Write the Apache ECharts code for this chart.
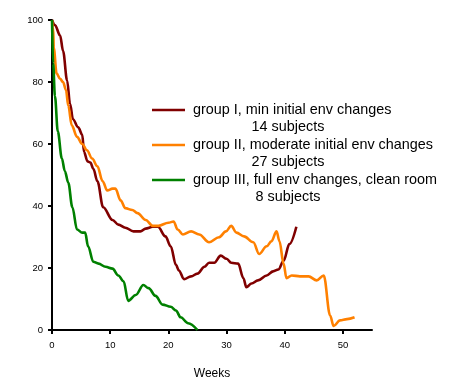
<!DOCTYPE html>
<html>
<head>
<meta charset="utf-8">
<script src="https://cdn.jsdelivr.net/npm/echarts@6/dist/echarts.min.js"></script>
<style>html,body{margin:0;padding:0;background:#fff;}#c{width:450px;height:385px;}</style>
</head>
<body>
<div id="c"></div>
<script>
var xTicks = [0, 10, 20, 30, 40, 50];
var yTicks = [0, 20, 40, 60, 80, 100];

var groupINames = ['group I, min initial env changes', '14 subjects'];
var groupIINames = ['group II, moderate initial env changes', '27 subjects'];
var groupIIINames = ['group III, full env changes, clean room', '8 subjects'];

var groupIWeeks = [0,0.5,1.4,1.9,2.6,3.1,3.6,4.5,5.2,5.5,6.1,6.6,7.1,7.8,8.8,10.4,11.4,12.6,14,15.2,16.1,17.3,18.2,19.5,20.4,21.3,21.8,22.7,23.9,25,26.2,27,27.9,29,30,30.8,32,32.9,33.4,34.3,35.4,36.9,38,38.9,39.8,40.8,42];
var groupIValues = [100,98.4,95,90,80.5,73,68,65.4,63,57.5,54.4,54,52,48,39.6,35.5,34,33,31.8,31.8,32.7,33.3,33.3,30.2,27,21,19.2,16.4,17.3,18.2,20.4,21.7,21.7,24,23,21.7,21.4,16.7,13.8,15,16,17.6,18.9,19.5,22.3,27.7,33.3];

var groupIIWeeks = [0,0.2,0.3,0.8,1.4,1.9,2.4,2.8,3.4,4.3,5.2,6,6.9,7.8,8.7,9.5,10.4,10.9,11.8,12.6,13.8,14.7,16.1,17.3,18.3,20,20.9,21.6,22.5,23.9,25.3,27,28.7,29.9,30.8,31.7,33,34.6,35.6,36.9,37.7,38.6,39.1,39.8,40.3,41.2,42.6,44.1,45.5,46.7,47.8,48.4,49.5,50.7,52];
var groupIIValues = [100,97.5,91,82.7,81,80,77.4,72.3,66,62.3,60,58,55.3,52.8,48,45,45.6,45.6,41.8,39.3,38.7,37.7,35.5,33.6,33.6,34.6,35,32.4,30.8,31.8,30.8,28.3,29.9,31.8,33.6,31.4,30.2,28.3,24.5,27,28.6,31.8,28.6,21.4,16.7,17.6,17.3,17.3,16,17.6,4.7,1.3,3.1,3.5,4.1];

var groupIIIWeeks = [0,0.2,0.5,1,1.7,2.2,2.8,3.5,4.3,5.2,5.7,6.2,7.1,8,9.2,10.4,11.4,12.3,13.1,14.4,15.7,16.6,17.8,19,20.4,21.3,22.1,23.4,25];
var groupIIIValues = [100,86,75.5,64,55.3,51.3,47.5,39.6,32.4,31.4,31.4,27,22,21.4,20.4,19.8,17.6,15.7,9.4,11.3,14.5,13.5,11,8.2,7.5,6.3,4.1,2.2,0];

var colors = ['#800000', '#ff8000', '#008000'];
var FONT = '"Liberation Sans", Arial, sans-serif';

function pairs(xs, ys) { return xs.map(function (x, i) { return [x, ys[i]]; }); }

function mkSeries(name, xs, ys, color) {
  return {
    name: name, type: 'line', data: pairs(xs, ys), showSymbol: false,
    smooth: 0.35, smoothMonotone: 'x',
    lineStyle: { color: color, width: 2.6 }, itemStyle: { color: color },
    animation: false
  };
}

var legendItems = [groupINames, groupIINames, groupIIINames];
var graphics = [];
legendItems.forEach(function (names, i) {
  var y0 = 110 + i * 35;
  graphics.push({ type: 'line', shape: { x1: 152, y1: y0, x2: 185, y2: y0 }, style: { stroke: colors[i], lineWidth: 2.6 } });
  graphics.push({ type: 'text', x: 193, y: y0, style: { text: names[0], font: '14.4px ' + FONT, fill: '#000', textAlign: 'left', textVerticalAlign: 'middle' } });
  graphics.push({ type: 'text', x: 288, y: y0 + 17, style: { text: names[1], font: '14.4px ' + FONT, fill: '#000', textAlign: 'center', textVerticalAlign: 'middle' } });
});

var chart = echarts.init(document.getElementById('c'), null, { renderer: 'canvas' });
chart.setOption({
  animation: false,
  backgroundColor: '#fff',
  grid: { left: 52, right: 78, top: 20, bottom: 47, containLabel: false },
  xAxis: {
    type: 'value', min: 0, max: 55, interval: 10,
    name: 'Weeks', nameLocation: 'middle', nameGap: 38,
    nameTextStyle: { fontSize: 12, color: '#000', fontFamily: FONT },
    axisLine: { show: true, onZero: false, lineStyle: { color: '#000', width: 2 } },
    axisTick: { show: true, length: 4, lineStyle: { color: '#000', width: 2 }, customValues: xTicks },
    axisLabel: { color: '#000', fontSize: 9.5, fontFamily: FONT, margin: 10, customValues: xTicks },
    splitLine: { show: false }
  },
  yAxis: {
    type: 'value', min: 0, max: 100, interval: 20,
    axisLine: { show: true, onZero: false, lineStyle: { color: '#000', width: 2 } },
    axisTick: { show: true, length: 4, lineStyle: { color: '#000', width: 2 }, customValues: yTicks },
    axisLabel: { color: '#000', fontSize: 9.5, fontFamily: FONT, margin: 9, customValues: yTicks },
    splitLine: { show: false }
  },
  series: [
    mkSeries(groupINames.join(' '), groupIWeeks, groupIValues, colors[0]),
    mkSeries(groupIINames.join(' '), groupIIWeeks, groupIIValues, colors[1]),
    mkSeries(groupIIINames.join(' '), groupIIIWeeks, groupIIIValues, colors[2])
  ],
  graphic: graphics
});
</script>
</body>
</html>
